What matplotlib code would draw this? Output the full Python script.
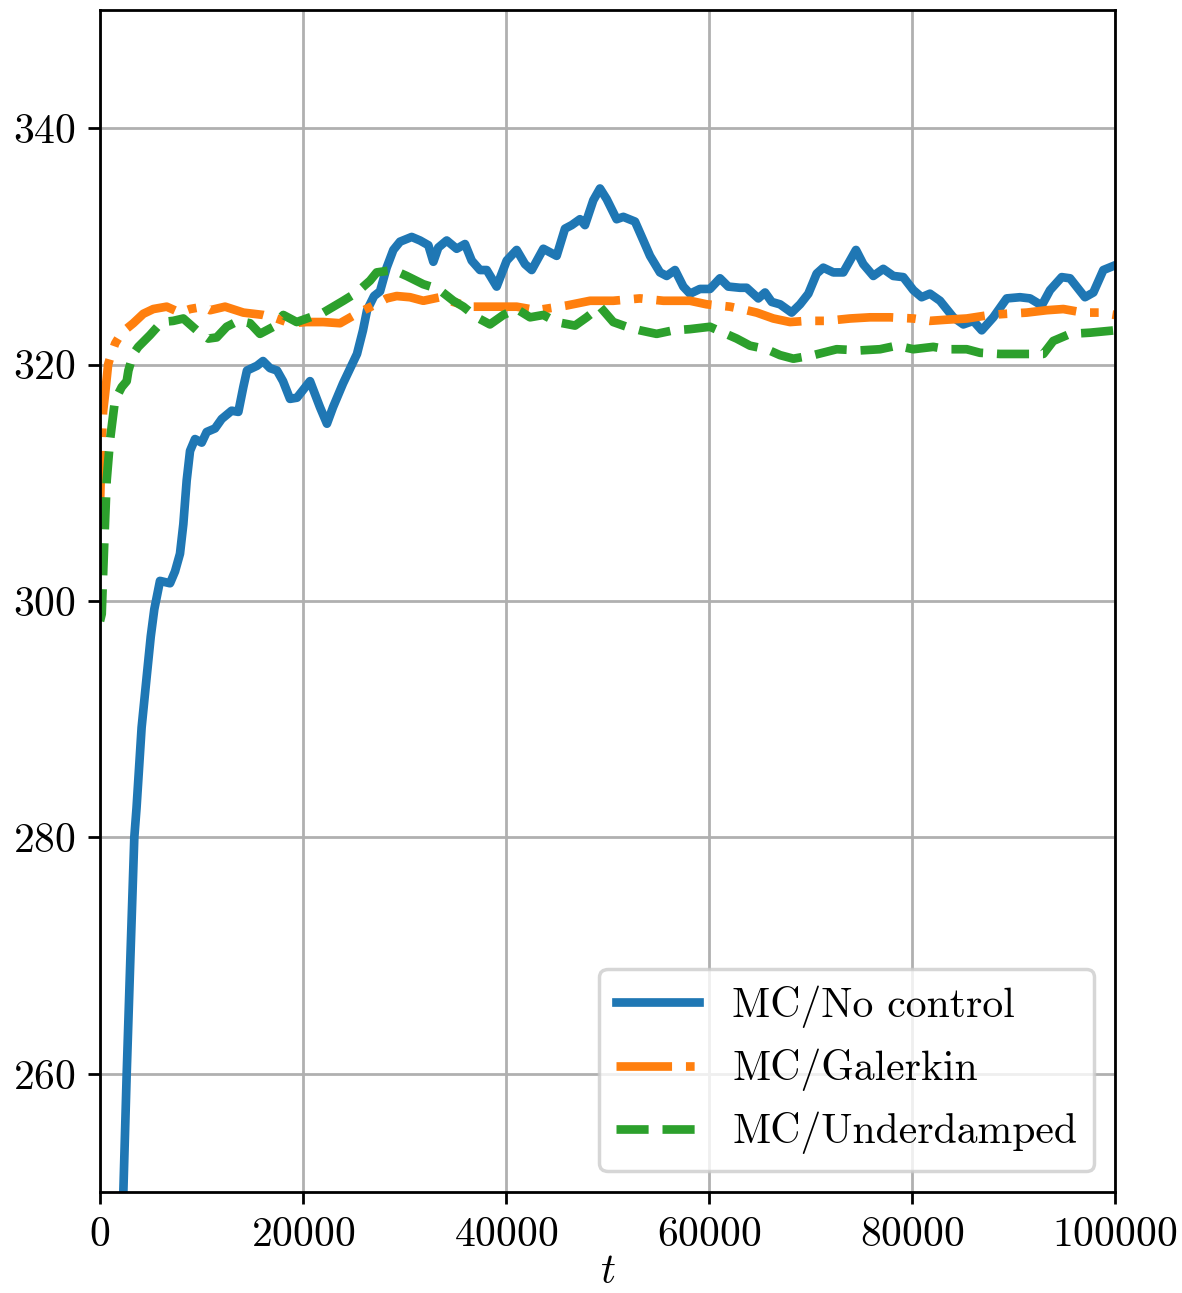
import numpy as np
import matplotlib
matplotlib.use('Agg')
import matplotlib.pyplot as plt

plt.rcParams['font.family'] = 'serif'
plt.rcParams['font.serif'] = ['cmr10']
plt.rcParams['mathtext.fontset'] = 'cm'
plt.rcParams['axes.formatter.use_mathtext'] = True
plt.rcParams['font.size'] = 12

# MC / No control
t_nc = [1800, 2300, 2630, 3000, 3380, 3600, 4100, 4600, 5000, 5350, 5910, 6900, 7390, 7880,
        8210, 8540, 8870, 9360, 10020, 10510, 11330, 11990, 12970, 13630, 14120, 14480, 15470,
        16060, 16750, 17440, 18030, 18720, 19410, 20690, 21670, 22360, 22960, 23940, 25320,
        25910, 26310, 27000, 27590, 28240, 28900, 29560, 30710, 31530, 32350, 32840, 33330,
        34160, 35140, 35960, 36620, 37440, 38100, 39080, 40070, 41050, 41870, 42530, 43680,
        44990, 45810, 46470, 47290, 47780, 48600, 49260, 49920, 50900, 51560, 52710, 53530,
        54190, 55170, 55830, 56650, 57470, 58130, 59110, 60100, 61080, 61900, 63050, 63710,
        64860, 65520, 66180, 67000, 68140, 68970, 69790, 70610, 71260, 72250, 73230, 73890,
        74480, 75200, 76190, 77170, 78160, 79140, 80130, 80950, 81770, 82760, 84070, 85060,
        86040, 86870, 88010, 89330, 90640, 91630, 92780, 93600, 94750, 95570, 97040, 97870,
        98850, 100000]
v_nc = [240, 250, 260, 270, 280, 282.5, 289.3, 293.6, 297.0, 299.3, 301.7, 301.5, 302.5, 304.0,
        306.5, 310.2, 312.7, 313.7, 313.4, 314.3, 314.6, 315.4, 316.1, 316.0, 318.1, 319.5, 319.9,
        320.3, 319.7, 319.5, 318.6, 317.1, 317.2, 318.6, 316.4, 315.0, 316.4, 318.4, 320.9,
        322.9, 324.6, 325.8, 326.2, 328.2, 329.7, 330.4, 330.8, 330.5, 330.1, 328.7, 329.9,
        330.5, 329.8, 330.2, 328.8, 328.0, 328.0, 326.6, 328.8, 329.7, 328.5, 328.0, 329.8,
        329.2, 331.5, 331.8, 332.3, 331.8, 333.9, 334.9, 334.0, 332.3, 332.5, 332.1, 330.5,
        329.2, 327.8, 327.5, 328.0, 326.6, 326.0, 326.4, 326.4, 327.3, 326.6, 326.5, 326.5,
        325.6, 326.1, 325.3, 325.1, 324.4, 325.1, 326.0, 327.7, 328.2, 327.8, 327.8, 328.8,
        329.7, 328.5, 327.5, 328.1, 327.5, 327.4, 326.3, 325.7, 326.0, 325.4, 324.0, 323.4,
        323.7, 322.9, 324.0, 325.6, 325.7, 325.6, 325.0, 326.3, 327.4, 327.3, 325.7, 326.1,
        328.0, 328.4]

# MC / Galerkin
t_gal = [0, 150, 300, 500, 800, 1000, 1500, 2140, 3280, 4270, 5250, 6570, 7880, 8870, 10180,
         10840, 12320, 14120, 16090, 17410, 18720, 20360, 22000, 23650, 25290, 26930, 28240,
         29230, 30540, 31850, 33500, 34810, 36450, 38750, 41050, 43020, 45980, 48280, 50570,
         53200, 55500, 58130, 59770, 62070, 63710, 64700, 66340, 67980, 69620, 71590, 73890,
         75860, 77830, 80130, 81770, 83420, 85390, 87680, 89330, 91300, 93270, 94910, 96880,
         98520, 100000]
v_gal = [308, 313, 316, 317.5, 320, 320.6, 321.8, 322.7, 323.5, 324.3, 324.7, 324.9, 324.4, 324.7,
         324.9, 324.6, 324.9, 324.4, 324.2, 323.9, 323.5, 323.6, 323.6, 323.5, 324.3, 325.0, 325.6,
         325.8, 325.7, 325.4, 325.7, 325.3, 324.9, 324.9, 324.9, 324.6, 325.0, 325.4, 325.4,
         325.6, 325.4, 325.4, 325.1, 324.9, 324.6, 324.4, 323.9, 323.6, 323.7, 323.7, 323.9,
         324.0, 324.0, 323.9, 323.7, 323.8, 323.9, 324.2, 324.3, 324.4, 324.6, 324.7, 324.4,
         324.4, 324.2]

# MC / Underdamped
t_ud = [0, 170, 330, 490, 660, 985, 1480, 2140, 2630, 2800, 3280, 3770, 4930, 6080, 7220, 8210,
        9530, 10670, 11500, 12480, 13630, 14780, 15760, 17080, 18060, 19380, 20690, 22000,
        23970, 25290, 26600, 27260, 28900, 30210, 31850, 33330, 34810, 35800, 37110, 38420,
        39740, 41050, 42370, 43680, 44990, 46800, 47950, 49260, 50570, 51890, 53200, 54840,
        56490, 58130, 60100, 61410, 62730, 64040, 65680, 67000, 68310, 70280, 72580, 74880,
        76850, 78490, 80130, 82100, 83420, 85390, 86700, 88670, 90640, 92940, 93920, 95570,
        97540, 100000]
v_ud = [298.3, 298.9, 302.8, 306.5, 310.2, 313.6, 317.0, 318.1, 318.6, 319.5, 320.9, 321.5, 322.5,
        323.6, 323.7, 323.9, 322.9, 322.2, 322.3, 323.2, 323.7, 323.5, 322.6, 323.2, 324.2, 323.6,
        324.0, 324.4, 325.4, 326.1, 327.1, 327.8, 328.0, 327.5, 326.8, 326.4, 325.4, 324.9,
        324.0, 323.4, 324.2, 324.7, 324.0, 324.2, 323.6, 323.3, 324.0, 324.9, 323.6, 323.2,
        322.9, 322.6, 322.9, 323.0, 323.2, 322.7, 322.2, 321.6, 321.3, 320.8, 320.5, 320.8,
        321.3, 321.2, 321.3, 321.6, 321.3, 321.5, 321.3, 321.3, 321.0, 320.9, 320.9, 320.9,
        322.0, 322.6, 322.7, 322.9]

fig = plt.figure(figsize=(1182 / 250, 1293 / 250), dpi=250)
ax = fig.add_axes([100 / 1182, 1 - 1192 / 1293, 1015 / 1182, 1182 / 1293])

ax.plot(t_nc, v_nc, '-', color='tab:blue', lw=2.5, label='MC/No control')
ax.plot(t_gal, v_gal, '-.', color='tab:orange', lw=2.5, label='MC/Galerkin')
ax.plot(t_ud, v_ud, '--', color='tab:green', lw=2.5, label='MC/Underdamped')

ax.set_xlim(0, 100000)
ax.set_ylim(250, 350)
ax.set_xticks(np.arange(0, 100001, 20000))
ax.set_yticks([260, 280, 300, 320, 340])
ax.set_xlabel('$t$', labelpad=0)
ax.grid(True)
ax.legend(loc='lower right')

fig.savefig('out.png', dpi=250)
